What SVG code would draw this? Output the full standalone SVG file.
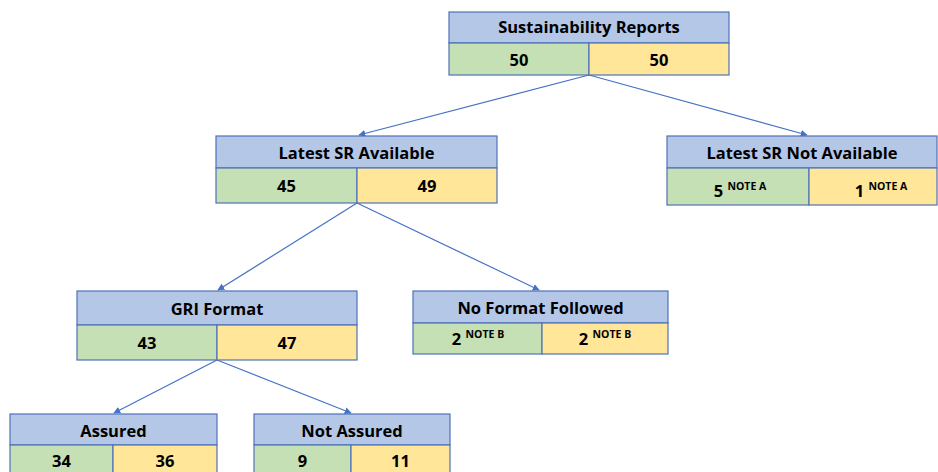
<svg xmlns="http://www.w3.org/2000/svg" width="938" height="472" viewBox="0 0 938 472">
<defs>
<style>
.h{fill:#B4C7E7;stroke:#4F72B8;stroke-width:1.2}
.g{fill:#C5E0B4;stroke:#4F72B8;stroke-width:1.2}
.y{fill:#FFE699;stroke:#4F72B8;stroke-width:1.2}
.t{font-family:"Open Sans","Noto Sans","Liberation Sans",sans-serif;font-weight:bold;font-size:16.5px;fill:#000;text-anchor:middle}
.s{font-size:10.5px}
.c{stroke:#4472C4;stroke-width:1.2;fill:none;marker-end:url(#ah)}
</style>
<marker id="ah" viewBox="0 0 10 10" refX="9" refY="5" markerWidth="7" markerHeight="7" orient="auto" markerUnits="userSpaceOnUse">
<path d="M0,0 L10,5 L0,10 z" fill="#4472C4"/>
</marker>
</defs>
<rect width="938" height="472" fill="#fff"/>
<g id="connectors">
<line class="c" x1="589" y1="75" x2="359" y2="135"/>
<line class="c" x1="589" y1="75" x2="807" y2="135"/>
<line class="c" x1="357" y1="203" x2="218" y2="290"/>
<line class="c" x1="357" y1="203" x2="539" y2="290"/>
<line class="c" x1="217" y1="360" x2="114" y2="413"/>
<line class="c" x1="217" y1="360" x2="351" y2="413"/>
</g>
<g id="sustainability-reports">
<rect class="h" x="449" y="12" width="280" height="31"/>
<rect class="g" x="449" y="43" width="140" height="32"/>
<rect class="y" x="589" y="43" width="140" height="32"/>
<text class="t" x="589" y="33">Sustainability Reports</text>
<text class="t" x="519" y="66">50</text>
<text class="t" x="659" y="66">50</text>
</g>
<g id="latest-sr-available">
<rect class="h" x="216" y="136" width="281" height="32"/>
<rect class="g" x="216" y="168" width="141" height="35"/>
<rect class="y" x="357" y="168" width="140" height="35"/>
<text class="t" x="356.5" y="159">Latest SR Available</text>
<text class="t" x="286.5" y="192">45</text>
<text class="t" x="427" y="192">49</text>
</g>
<g id="latest-sr-not-available">
<rect class="h" x="667" y="136" width="270" height="32"/>
<rect class="g" x="667" y="168" width="142" height="37"/>
<rect class="y" x="809" y="168" width="128" height="37"/>
<text class="t" x="802" y="159">Latest SR Not Available</text>
<text class="t" x="740" y="197">5 <tspan class="s" dy="-7">NOTE A</tspan></text>
<text class="t" x="881" y="197">1 <tspan class="s" dy="-7">NOTE A</tspan></text>
</g>
<g id="gri-format">
<rect class="h" x="77" y="291" width="280" height="34"/>
<rect class="g" x="77" y="325" width="140" height="35"/>
<rect class="y" x="217" y="325" width="140" height="35"/>
<text class="t" x="217" y="315">GRI Format</text>
<text class="t" x="147" y="349">43</text>
<text class="t" x="287" y="349">47</text>
</g>
<g id="no-format-followed">
<rect class="h" x="413" y="291" width="255" height="32"/>
<rect class="g" x="413" y="323" width="129" height="31"/>
<rect class="y" x="542" y="323" width="126" height="31"/>
<text class="t" x="540.5" y="314">No Format Followed</text>
<text class="t" x="478" y="345">2 <tspan class="s" dy="-7">NOTE B</tspan></text>
<text class="t" x="605" y="345">2 <tspan class="s" dy="-7">NOTE B</tspan></text>
</g>
<g id="assured">
<rect class="h" x="10" y="414" width="207" height="31"/>
<rect class="g" x="10" y="445" width="103" height="35"/>
<rect class="y" x="113" y="445" width="104" height="35"/>
<text class="t" x="113.5" y="437">Assured</text>
<text class="t" x="61.5" y="467">34</text>
<text class="t" x="165" y="467">36</text>
</g>
<g id="not-assured">
<rect class="h" x="254" y="414" width="196" height="31"/>
<rect class="g" x="254" y="445" width="97" height="35"/>
<rect class="y" x="351" y="445" width="99" height="35"/>
<text class="t" x="352" y="437">Not Assured</text>
<text class="t" x="302.5" y="467">9</text>
<text class="t" x="400.5" y="467">11</text>
</g>
</svg>
